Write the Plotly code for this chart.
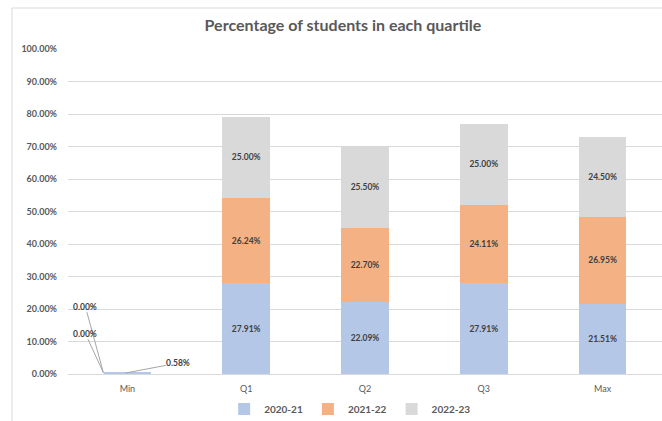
import plotly.graph_objects as go

categories = ["Min", "Q1", "Q2", "Q3", "Max"]
series_names = ["2020-21", "2021-22", "2022-23"]
v_2020_21 = [0.0058, 0.2791, 0.2209, 0.2791, 0.2151]
v_2021_22 = [0.0, 0.2624, 0.2270, 0.2411, 0.2695]
v_2022_23 = [0.0, 0.2500, 0.2550, 0.2500, 0.2450]
colors = ["#B4C7E7", "#F4B183", "#D9D9D9"]
y_ticks = [i / 10 for i in range(11)]

W, H = 662, 421
ML, MR, MT, MB = 68, 0, 49, 47
PW, PH = W - ML - MR, H - MT - MB

FONT = "Lato, Open Sans, sans-serif"
GRAY = "#595959"

fig = go.Figure()
for name, vals, col in zip(series_names, [v_2020_21, v_2021_22, v_2022_23], colors):
    txt = ["" if i == 0 else f"{v*100:.2f}%" for i, v in enumerate(vals)]
    fig.add_trace(go.Bar(
        x=categories, y=vals, name=name, marker=dict(color=col, line=dict(width=0)),
        text=txt, textposition="inside", insidetextanchor="middle",
        textfont=dict(size=8.5, color="#404040", family=FONT, weight="bold"),
        constraintext="none", cliponaxis=False, hoverinfo="skip",
    ))

# Min category labels with leader lines (Excel-style)
min_labels = [
    # (value text, tip xshift px, tip y, ax, ay)
    (f"{v_2022_23[0]*100:.2f}%", -24, 0.004, -18, -66),
    (f"{v_2021_22[0]*100:.2f}%", -24, 0.004, -18, -39),
    (f"{v_2020_21[0]*100:.2f}%", -2, 0.003, 53, -10),
]
for t, xs, yv, ax, ay in min_labels:
    fig.add_annotation(
        x=0, y=yv, xref="x", yref="y", text=t, showarrow=True, arrowhead=0,
        arrowwidth=1, arrowcolor="#A6A6A6", ax=ax, ay=ay, xshift=xs,
        font=dict(size=8.5, color="#404040", family=FONT, weight="bold"),
        standoff=0, startstandoff=0, borderpad=0,
    )

# chart border (left and top)
bx = (12 - ML) / PW
by = (MB + PH - 6) / PH
fig.add_shape(type="line", xref="paper", yref="paper", x0=bx, x1=bx, y0=-MB / PH, y1=by,
              line=dict(color="#D9D9D9", width=1))
fig.add_shape(type="line", xref="paper", yref="paper", x0=bx, x1=1.0, y0=by, y1=by,
              line=dict(color="#D9D9D9", width=1))

fig.update_layout(
    width=W, height=H, margin=dict(l=ML, r=MR, t=MT, b=MB, autoexpand=False),
    barmode="stack", bargap=0.6,
    paper_bgcolor="white", plot_bgcolor="white",
    font=dict(family=FONT, color=GRAY),
    title=dict(text="Percentage of students in each quartile", x=0.518, xanchor="center",
               y=1 - 25 / H, yanchor="middle",
               font=dict(size=16, color=GRAY, family=FONT, weight="bold")),
    showlegend=True,
    legend=dict(orientation="h", x=0.475, xanchor="center", y=-(409 - MT - PH) / PH,
                yanchor="middle", font=dict(size=10, color=GRAY, family=FONT, weight="bold"),
                itemwidth=30, traceorder="normal", bgcolor="rgba(0,0,0,0)"),
    xaxis=dict(showgrid=False, showline=True, linecolor="#D9D9D9", linewidth=1,
               ticks="", tickfont=dict(size=9, color=GRAY, family=FONT),
               ticklabelstandoff=6, fixedrange=True),
    yaxis=dict(range=[0, 1], tickvals=y_ticks, tickformat=".2%", showgrid=True,
               gridcolor="#D9D9D9", gridwidth=1, zeroline=False, showline=False,
               tickfont=dict(size=9, color=GRAY, family=FONT, weight="bold"),
               ticklabelstandoff=10, fixedrange=True),
)

fig.write_html("out.html")
